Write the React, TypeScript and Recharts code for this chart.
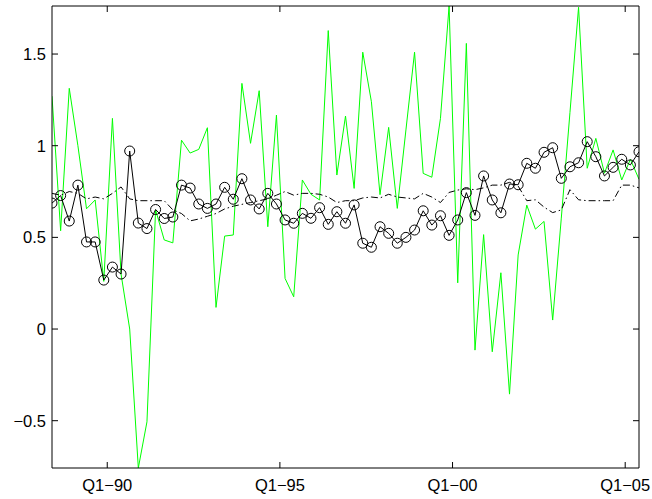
import { Line, LineChart, XAxis, YAxis } from "recharts";

// quarterly observations, first point sits on the left edge of the box
const gap = [
  1.27, 0.536, 1.313, 1.0, 0.656, 0.704, 0.26, 1.149, 0.3, 0.0,
  -0.758, -0.506, 0.65, 0.486, 0.47, 1.03, 0.96, 0.98, 1.098, 0.118,
  0.507, 0.513, 1.34, 1.013, 1.3, 0.558, 1.167, 0.276, 0.176, 0.813,
  0.735, 0.704, 1.628, 0.84, 1.162, 0.767, 1.51, 1.24, 0.733, 1.1,
  0.658, 1.086, 1.51, 0.849, 0.828, 1.149, 1.762, 0.252, 1.558, -0.115,
  0.515, -0.124, 0.307, -0.355, 0.404, 0.676, 0.545, 0.587, 0.049, 0.605,
  1.18, 1.755, 0.877, 1.04, 0.85, 0.977, 0.813, 0.926, 0.817,
];

const smoothed = [
  0.687, 0.728, 0.589, 0.785, 0.475, 0.475, 0.267, 0.338, 0.3, 0.971,
  0.578, 0.548, 0.652, 0.603, 0.611, 0.785, 0.769, 0.682, 0.658, 0.682,
  0.773, 0.708, 0.82, 0.704, 0.655, 0.74, 0.682, 0.595, 0.577, 0.631,
  0.604, 0.662, 0.571, 0.64, 0.577, 0.677, 0.468, 0.446, 0.558, 0.522,
  0.468, 0.5, 0.54, 0.645, 0.567, 0.618, 0.511, 0.595, 0.744, 0.62,
  0.835, 0.704, 0.634, 0.791, 0.787, 0.904, 0.877, 0.964, 0.989, 0.822,
  0.885, 0.907, 1.022, 0.94, 0.835, 0.882, 0.926, 0.895, 0.967,
];

const trend = [
  0.74, 0.73, 0.75, 0.74, 0.71, 0.72, 0.71, 0.74, 0.775, 0.71,
  0.7, 0.7, 0.7, 0.7, 0.65, 0.63, 0.59, 0.6, 0.615, 0.63,
  0.655, 0.67, 0.68, 0.69, 0.7, 0.71, 0.73, 0.75, 0.73, 0.74,
  0.74, 0.735, 0.72, 0.69, 0.7, 0.7, 0.715, 0.72, 0.715, 0.735,
  0.72, 0.715, 0.71, 0.74, 0.72, 0.69, 0.745, 0.758, 0.765, 0.76,
  0.77, 0.785, 0.785, 0.8, 0.78, 0.7, 0.705, 0.665, 0.635, 0.65,
  0.76, 0.705, 0.7, 0.7, 0.7, 0.7, 0.785, 0.785, 0.77,
];

// x ticks sit between observations (quarter index from first point)
const xTicks = [6.4, 26.4, 46.4, 66.4];
const xLabels = ["Q1\u221290", "Q1\u221295", "Q1\u221200", "Q1\u221205"];
const yTicks = [-0.5, 0, 0.5, 1, 1.5];
const yDomain: [number, number] = [-0.758, 1.762];

const data = gap.map((g, i) => ({ q: i, gap: g, smoothed: smoothed[i], trend: trend[i] }));
const xDomain: [number, number] = [0, data.length - 1];

const font = { fontSize: 16.5, fill: "#000", fontFamily: "'Liberation Sans', Arial, sans-serif" };
const fmtX = (v: number) => xLabels[xTicks.indexOf(v)] ?? "";
const fmtY = (v: number) => (v < 0 ? "\u2212" + Math.abs(v) : String(v));

export default function App() {
  return (
    <div style={{ position: "absolute", left: 0, top: 0, background: "#fff" }}>
      <LineChart width={652} height={499} data={data} margin={{ top: 5, right: 12, bottom: 0, left: 0 }}>
        <XAxis
          dataKey="q"
          type="number"
          domain={xDomain}
          ticks={xTicks}
          tickFormatter={fmtX}
          allowDataOverflow
          height={31}
          tickSize={-6}
          tickMargin={17}
          tick={font}
          axisLine={{ stroke: "#000" }}
          tickLine={{ stroke: "#000" }}
        />
        {/* mirrored axes close the box, MATLAB style */}
        <XAxis
          xAxisId="top"
          orientation="top"
          dataKey="q"
          type="number"
          domain={xDomain}
          ticks={xTicks}
          tickFormatter={() => ""}
          allowDataOverflow
          height={1}
          tickSize={-6}
          axisLine={{ stroke: "#000" }}
          tickLine={{ stroke: "#000" }}
        />
        <YAxis
          type="number"
          domain={yDomain}
          ticks={yTicks}
          tickFormatter={fmtY}
          allowDataOverflow
          width={52}
          tickSize={-6}
          tickMargin={12}
          tick={font}
          axisLine={{ stroke: "#000" }}
          tickLine={{ stroke: "#000" }}
        />
        <YAxis
          yAxisId="right"
          orientation="right"
          type="number"
          domain={yDomain}
          ticks={yTicks}
          tickFormatter={() => ""}
          allowDataOverflow
          width={1}
          tickSize={-6}
          axisLine={{ stroke: "#000" }}
          tickLine={{ stroke: "#000" }}
        />
        <Line dataKey="gap" stroke="#00ff00" strokeWidth={1} dot={false} isAnimationActive={false} />
        <Line
          xAxisId="top"
          yAxisId="right"
          dataKey="trend"
          stroke="#000"
          strokeWidth={1}
          strokeDasharray="7 3 1.5 3"
          dot={false}
          isAnimationActive={false}
        />
        <Line
          dataKey="smoothed"
          stroke="#000"
          strokeWidth={1}
          dot={{ r: 5, stroke: "#000", strokeWidth: 1, fill: "none" }}
          isAnimationActive={false}
        />
      </LineChart>
    </div>
  );
}
